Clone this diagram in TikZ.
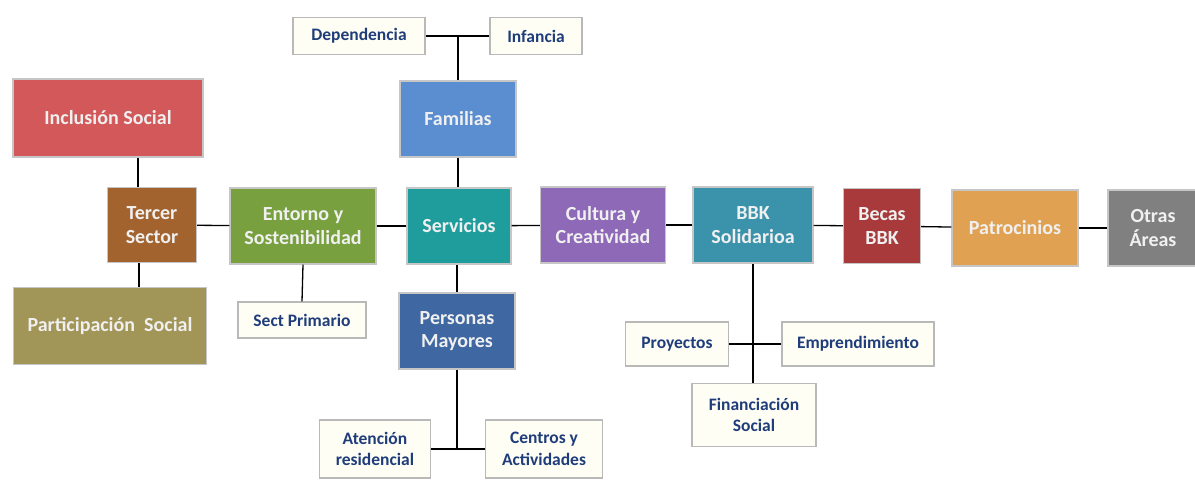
\documentclass[tikz,border=0pt]{standalone}
\usepackage{fontspec}
\setmainfont{Carlito}
\definecolor{cIncl}{HTML}{D2585A}
\definecolor{cTerc}{HTML}{A3632F}
\definecolor{cPart}{HTML}{A29558}
\definecolor{cEnto}{HTML}{78A03F}
\definecolor{cServ}{HTML}{1F9C9C}
\definecolor{cFami}{HTML}{5A8ED0}
\definecolor{cPers}{HTML}{3F67A1}
\definecolor{cCult}{HTML}{8E69B8}
\definecolor{cBBK}{HTML}{3A93AB}
\definecolor{cBeca}{HTML}{A83A3B}
\definecolor{cPatr}{HTML}{E0A152}
\definecolor{cOtra}{HTML}{808080}
\definecolor{cText}{HTML}{1F3D7A}
\begin{document}
\begin{tikzpicture}[x=1pt,y=-1pt,
    area/.style={draw=gray!45,line width=1.2pt,inner sep=0pt,align=center,text=white!94!black,
      font=\fontsize{20}{23.5}\selectfont\bfseries,minimum height=76pt},
    sub/.style={draw=gray!55,line width=1.2pt,fill=yellow!4,inner sep=0pt,align=center,text=cText,
      font=\fontsize{17.5}{21.5}\selectfont\bfseries},
    link/.style={line width=1.3pt,black}]
  \useasboundingbox (0,0) rectangle (1195,480);
  % colored areas
  \node[area,fill=cIncl,minimum width=190pt,minimum height=78pt] (incl) at (108,118) {Inclusión Social};
  \node[area,fill=cTerc,minimum width=89pt,minimum height=75pt] (tercer) at (152,225) {Tercer\\Sector};
  \node[area,fill=cPart,minimum width=193pt,minimum height=77pt] (partic) at (110,326) {Participación~ Social};
  \node[area,fill=cEnto,minimum width=146pt] (entorno) at (303,226) {Entorno y\\Sostenibilidad};
  \node[area,fill=cFami,minimum width=116pt] (famil) at (458,119) {Familias};
  \node[area,fill=cServ,minimum width=104pt] (serv) at (459,226) {Servicios};
  \node[area,fill=cPers,minimum width=116pt] (personas) at (457,331) {Personas\\Mayores};
  \node[area,fill=cCult,minimum width=125pt] (cultura) at (603,225) {Cultura y\\Creatividad};
  \node[area,fill=cBBK,minimum width=120pt] (bbk) at (753,225) {BBK\\Solidarioa};
  \node[area,fill=cBeca,minimum width=77pt,minimum height=75pt] (becas) at (882,226) {Becas\\BBK};
  \node[area,fill=cPatr,minimum width=126pt] (patro) at (1015,228) {Patrocinios};
  \node[area,fill=cOtra,minimum width=90pt] (otras) at (1153,228) {Otras\\Áreas};
  % white sub-areas
  \node[sub,minimum width=128pt,minimum height=36pt] (sect) at (302,320) {Sect Primario};
  \node[sub,minimum width=132pt,minimum height=37pt] (depend) at (359,36) {Dependencia};
  \node[sub,minimum width=92pt,minimum height=37pt] (infan) at (536,36) {Infancia};
  \node[sub,minimum width=111pt,minimum height=58pt] (atenc) at (375,449) {Atención\\residencial};
  \node[sub,minimum width=117pt,minimum height=58pt] (centros) at (544,449) {Centros y\\Actividades};
  \node[sub,minimum width=103pt,minimum height=44pt] (proy) at (677,344) {Proyectos};
  \node[sub,minimum width=152pt,minimum height=44pt] (empren) at (858,344) {Emprendimiento};
  \node[sub,minimum width=124pt,minimum height=63pt] (finan) at (754,415) {Financiación\\Social};
  % connectors
  \draw[link] ([xshift=-14pt]tercer.north) -- ([xshift=-14pt]tercer.north |- incl.south);
  \draw[link] ([xshift=-13pt]tercer.south) -- ([xshift=-13pt]tercer.south |- partic.north);
  \draw[link] (tercer) -- (entorno);
  \draw[link] (entorno) -- (serv);
  \draw[link] (entorno.south) -- (sect.north);
  \draw[link] (serv) -- (cultura);
  \draw[link] (cultura) -- (bbk);
  \draw[link] (bbk) -- (becas);
  \draw[link] (becas) -- (patro);
  \draw[link] (patro) -- (otras);
  \draw[link] (famil.south) -- (famil.south |- serv.north);
  \draw[link] (depend.east) -- (infan.west);
  \draw[link] (famil.north) -- (famil.north |- depend.east);
  \draw[link] (personas.north) -- (personas.north |- serv.south);
  \draw[link] (atenc.east) -- (centros.west);
  \draw[link] (personas.south) -- (personas.south |- atenc.east);
  \draw[link] (proy.east) -- (empren.west);
  \draw[link] (bbk.south) -- (bbk.south |- finan.north);
\end{tikzpicture}
\end{document}
